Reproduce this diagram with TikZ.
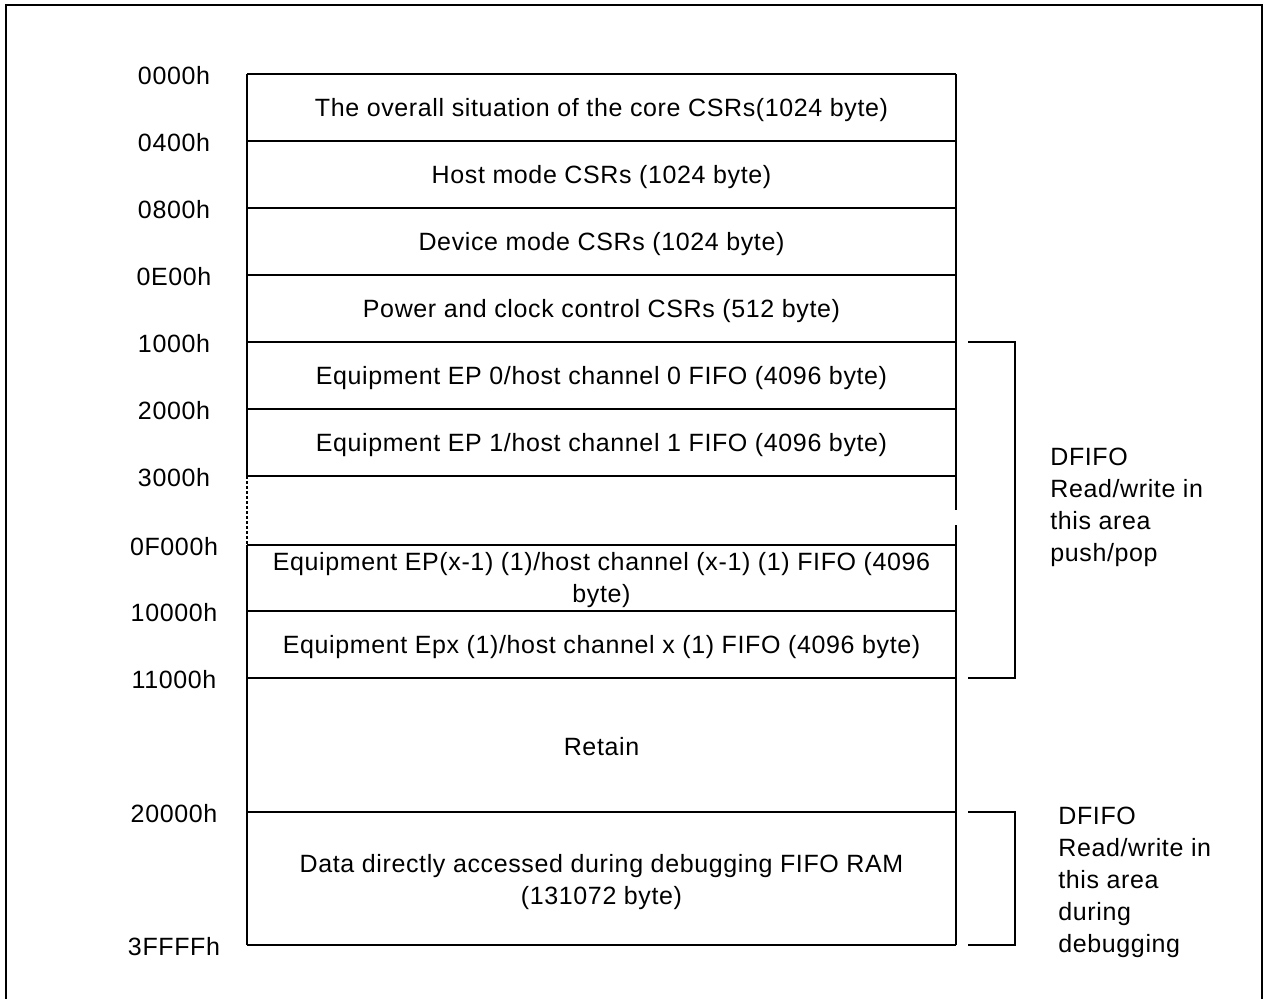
\documentclass[tikz,border=0pt]{standalone}
\usepackage{fontspec}
\setmainfont{Liberation Sans}[LetterSpace=2.5]
\begin{document}
\begin{tikzpicture}[x=1pt, y=-1pt, line width=2pt,
    addr/.style={font=\fontsize{25}{32}\selectfont, anchor=center, yshift=-2pt},
    cell/.style={font=\fontsize{25}{32}\selectfont, align=center, anchor=center, yshift=-2pt},
    note/.style={font=\fontsize{25}{32}\selectfont, align=left, anchor=west},
    gapline/.style={dash pattern=on 3pt off 2pt}
  ]
    \useasboundingbox (0,0) rectangle (1265,998);
    \clip (0,0) rectangle (1265,998);

    %--- outer frame (open at the bottom) ---
    \draw[line width=2.4pt] (6,1010) -- (6,5) -- (1262,5) -- (1262,1010);

    %--- addresses and row borders ---
    \foreach \y/\a in {74/0000h, 141/0400h, 208/0800h, 275/0E00h, 342/1000h,
                       409/2000h, 476/3000h, 545/0F000h, 611/10000h,
                       678/11000h, 812/20000h, 945/3FFFFh}{
      \node[addr] (a\a) at (174,\y) {\a};
      \draw (247,\y) -- (956,\y);
    }

    %--- side edges ---
    \draw (247,74) -- (247,476);
    \draw[gapline] (247,476) -- (247,545);
    \draw (247,545) -- (247,945);
    \draw (956,74) -- (956,510);
    \draw (956,525) -- (956,945);

    %--- row texts ---
    \node[cell] (core)  at (601.5,108) {The overall situation of the core CSRs(1024 byte)};
    \node[cell] (host)  at (601.5,175) {Host mode CSRs (1024 byte)};
    \node[cell] (dev)   at (601.5,242) {Device mode CSRs (1024 byte)};
    \node[cell] (pwr)   at (601.5,309) {Power and clock control CSRs (512 byte)};
    \node[cell] (ep0)   at (601.5,376) {Equipment EP 0/host channel 0 FIFO (4096 byte)};
    \node[cell] (ep1)   at (601.5,443) {Equipment EP 1/host channel 1 FIFO (4096 byte)};
    \node[cell] (epxm)  at (601.5,578) {Equipment EP(x-1) (1)/host channel (x-1) (1) FIFO (4096\\byte)};
    \node[cell] (epx)   at (601.5,645) {Equipment Epx (1)/host channel x (1) FIFO (4096 byte)};
    \node[cell] (ret)   at (601.5,745) {Retain};
    \node[cell] (dbg)   at (601.5,880) {Data directly accessed during debugging FIFO RAM\\(131072 byte)};

    %--- brackets and notes ---
    \draw (968,342) -- (1015,342) -- (1015,678) -- (968,678);
    \draw (968,812) -- (1015,812) -- (1015,945) -- (968,945);
    \node[note] (fifo)  at (1046,507) {DFIFO\\Read/write in\\this area\\push/pop};
    \node[note] (debug) at (1054,882) {DFIFO\\Read/write in\\this area\\during\\debugging};
\end{tikzpicture}
\end{document}
